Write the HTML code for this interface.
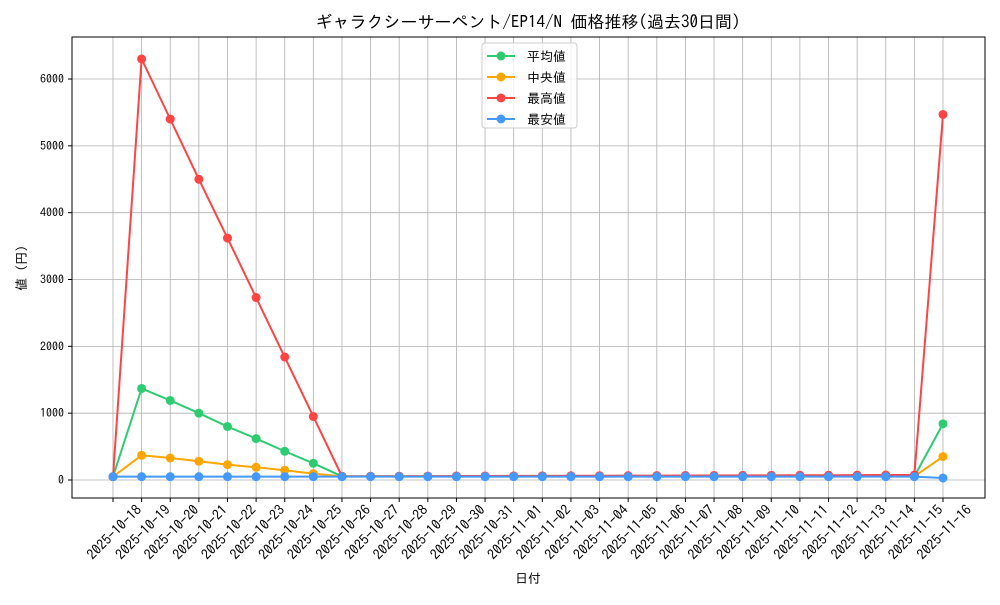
<!DOCTYPE html>
<html><head><meta charset="utf-8"><style>
body{margin:0;background:#fff}
text{font-family:"IPAGothic","Noto Sans CJK JP",sans-serif;fill:#000}
</style></head><body>
<svg id="s" width="1000" height="600" xmlns="http://www.w3.org/2000/svg"></svg>
<script>
const s=document.getElementById('s');let h='';
const L=72,R=985,T=37,B=498;
const X=i=>113+i*(830/29), Y=v=>480-v*0.06683;
h+=`<rect x="${L}" y="${T}" width="${R-L}" height="${B-T}" fill="#fff"/>`;
for(let i=0;i<30;i++){const x=X(i);h+=`<line x1="${x}" y1="${T}" x2="${x}" y2="${B}" stroke="#b0b0b0" stroke-width="0.8"/><line x1="${x}" y1="${B}" x2="${x}" y2="${B+4}" stroke="#000"/>`;
const d=new Date(Date.UTC(2025,9,18+i));const lb=d.toISOString().slice(0,10);
h+=`<text transform="translate(${x+2},${B+35}) rotate(-45)" text-anchor="middle" dominant-baseline="middle" font-size="14">${lb}</text>`;}
for(let v=0;v<=6000;v+=1000){const y=Y(v);h+=`<line x1="${L}" y1="${y}" x2="${R}" y2="${y}" stroke="#b0b0b0" stroke-width="0.8"/><line x1="${L-4}" y1="${y}" x2="${L}" y2="${y}" stroke="#000"/><text x="${L-8}" y="${y+4}" text-anchor="end" font-size="12">${v}</text>`;}
h+=`<rect x="${L}" y="${T}" width="${R-L}" height="${B-T}" fill="none" stroke="#000" stroke-width="1"/>`;
const f=(a,n,end)=>{const r=a.slice();while(r.length<29)r.push(n(r.length));r.push(end);return r;};
const mx=[50,6300,5400,4500,3620,2730,1840,950];const mx2=f(mx,i=>55+(i-8)*1,5470);
const av=f([50,1370,1190,1000,800,620,430,250],i=>55,840);
const md=f([50,370,330,280,230,190,145,95],i=>55,350);
const mn=f([50],i=>50,30);
const ser=[[av,'#2ecc71'],[md,'#ffa500'],[mx2,'#ff4444'],[mn,'#4499ff']];
ser.forEach(([d,c])=>{h+=`<polyline fill="none" stroke="${c}" stroke-width="2" points="${d.map((v,i)=>X(i)+','+Y(v)).join(' ')}"/>`;d.forEach((v,i)=>h+=`<circle cx="${X(i)}" cy="${Y(v)}" r="4.5" fill="${c}"/>`);});
h+=`<rect x="482" y="43" width="95" height="85" fill="#fff" fill-opacity="0.8" stroke="#ccc" rx="3"/>`;
['平均値','中央値','最高値','最安値'].forEach((t,i)=>{const y=56+i*21,c=ser[i][1];h+=`<line x1="487" y1="${y}" x2="515" y2="${y}" stroke="${c}" stroke-width="2"/><circle cx="501" cy="${y}" r="4.5" fill="${c}"/><text x="527" y="${y+5}" font-size="13">${t}</text>`;});
h+=`<text x="528" y="28" text-anchor="middle" font-size="17">ギャラクシーサーペント/EP14/N 価格推移(過去30日間)</text>`;
h+=`<text x="528" y="583" text-anchor="middle" font-size="13">日付</text>`;
h+=`<text transform="translate(26,268) rotate(-90)" text-anchor="middle" font-size="13">値 (円)</text>`;
s.innerHTML=h;
</script></body></html>
